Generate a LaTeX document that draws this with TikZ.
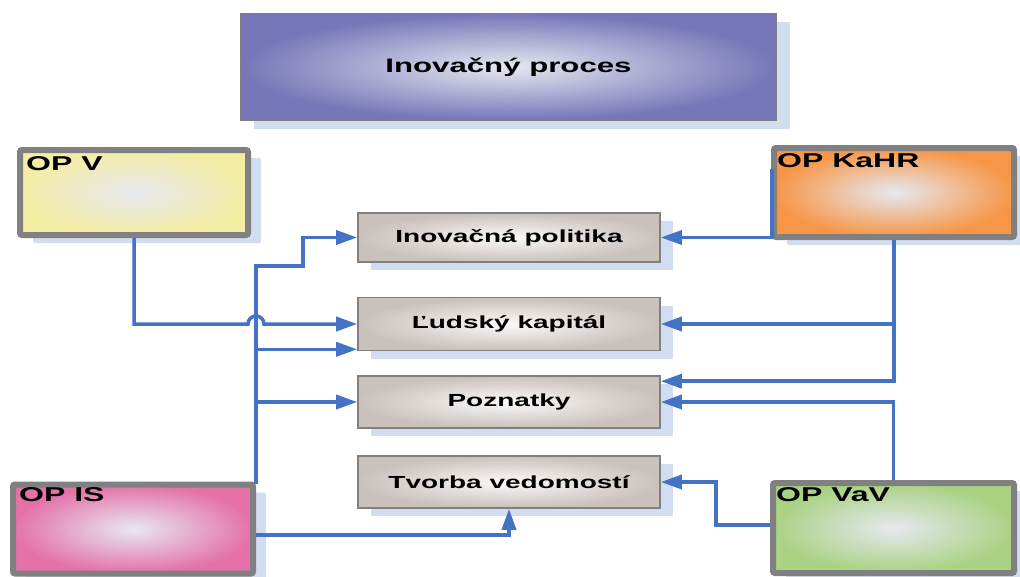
\documentclass[tikz,border=0pt]{standalone}
\usepackage{fontspec}
\newfontfamily\diagfont[FakeStretch=1.6]{Liberation Sans}
\usetikzlibrary{arrows.meta, shadows, positioning}

\definecolor{boxgray}{HTML}{808080}
\definecolor{linkblue}{HTML}{4472C4}
\definecolor{shdw}{HTML}{D2DDF1}
\definecolor{procblue}{HTML}{7676B8}
\definecolor{opyellow}{HTML}{F4EDA4}
\definecolor{oporange}{HTML}{F79646}
\definecolor{oppink}{HTML}{E471A8}
\definecolor{opgreen}{HTML}{A9D282}
\definecolor{topicgray}{HTML}{C9C1BC}
\definecolor{glow}{HTML}{E6E8F0}

\begin{document}
\begin{tikzpicture}[x=1pt, y=-1pt, >={Triangle[length=21pt, width=14pt]},
	font=\diagfont\bfseries\fontsize{17.5}{20}\selectfont,
	boxshadow/.style={drop shadow={shadow xshift=13pt, shadow yshift=-8pt, fill=shdw, opacity=1}},
	opbox/.style={draw=boxgray, line width=6pt, rounded corners=2pt, inner color=glow, outer color=#1, boxshadow, inner sep=0pt},
	topic/.style={draw=boxgray, line width=1.6pt, inner color=white!92!topicgray, outer color=topicgray, boxshadow, minimum width=302pt, inner sep=0pt},
	oplabel/.style={anchor=base west, inner sep=0pt, font=\diagfont\bfseries\fontsize{20}{22}\selectfont},
	link/.style={draw=linkblue, line width=3.5pt, ->}]
		\useasboundingbox (0,0) rectangle (1020,576);
		
		\node[draw=boxgray, line width=1.5pt, minimum width=536pt, minimum height=107pt, inner color=glow, outer color=procblue, boxshadow, font=\diagfont\bfseries\fontsize{19.5}{22}\selectfont] (proces) at (508.5,67) {Inovačný proces};
		
		\node[opbox=opyellow, minimum width=228pt, minimum height=85pt] (opv) at (134,192.5) {};
		\node[oplabel] (opvlbl) at ([shift={(9pt,-23pt)}]opv.north west) {OP V};
		\node[opbox=oporange, minimum width=240pt, minimum height=89pt] (kahr) at (894,192.5) {};
		\node[oplabel] (kahrlbl) at ([shift={(6pt,-22pt)}]kahr.north west) {OP KaHR};
		\node[opbox=oppink, minimum width=240pt, minimum height=89pt] (opis) at (133,529) {};
		\node[oplabel] (opislbl) at ([shift={(9pt,-20pt)}]opis.north west) {OP IS};
		\node[opbox=opgreen, minimum width=241pt, minimum height=90pt] (vav) at (893.5,528) {};
		\node[oplabel] (vavlbl) at ([shift={(6pt,-21pt)}]vav.north west) {OP VaV};
		
		\node[topic, minimum height=49pt] (politika) at (509,237.5) {Inovačná politika};
		\node[topic, minimum height=53pt] (ludsky) at (509,324) {Ľudský kapitál};
		\node[topic, minimum height=52pt] (poznatky) at (509,402) {Poznatky};
		\node[topic, minimum height=52pt] (tvorba) at (509,482) {Tvorba vedomostí};
		
		\coordinate (hop) at (256,324);
		\coordinate (trunk) at (256,484);
		\coordinate (jog) at (303,266);
		\coordinate (ludlow) at ([yshift=2pt]ludsky.south west);
		\coordinate (poznhi) at ([yshift=-6pt]poznatky.north east);
		\coordinate (kahrend) at (772,169);
		\coordinate (vavjog) at (716,482);
		
		\draw[link] (trunk) |- (jog) |- (politika.west);
		\draw[link] (trunk |- ludlow) -- (ludlow);
		\draw[link] (trunk |- poznatky.west) -- (poznatky.west);
		\draw[link] (opv.south) |- ([xshift=-8pt]hop) arc[start angle=180, end angle=0, radius=8pt] -- (ludsky.west);
		\draw[link] ([yshift=-6pt]opis.east) -| (tvorba.south);
		
		\draw[link] (kahrend) |- (politika.east);
		\draw[link] (kahr.south) |- (poznhi);
		\draw[link] (kahr.south |- ludsky.east) -- (ludsky.east);
		\draw[link] (vav.north) |- (poznatky.east);
		\draw[link] ([yshift=3pt]vav.west) -| (vavjog) -- (tvorba.east);
		
	\end{tikzpicture}
\end{document}
